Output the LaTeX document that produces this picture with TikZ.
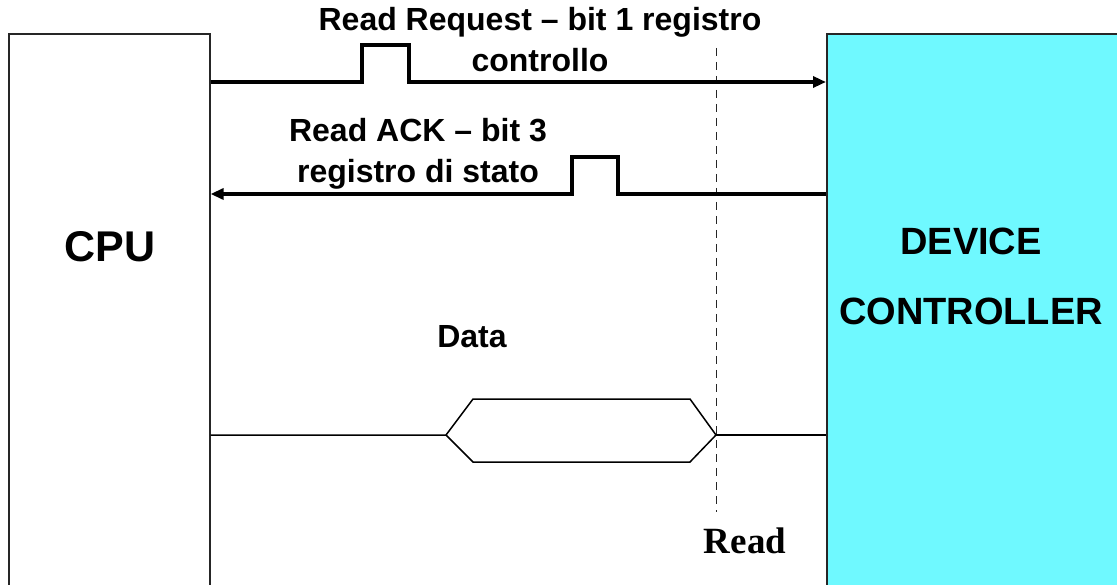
\documentclass[tikz,border=0pt]{standalone}
\usepackage{fontspec}
\setmainfont{Liberation Sans}
\newfontfamily\serifread{Liberation Serif}
\usepackage{xcolor}
\usetikzlibrary{arrows.meta}
\definecolor{devcyan}{RGB}{111,249,255}

\begin{document}
\begin{tikzpicture}[x=1pt,y=-1pt,>={Triangle[length=13pt,width=11pt]},line join=miter,
  unit/.style={draw=black!85,line width=1.6pt,inner sep=0pt,anchor=north west},
  sig/.style={line width=3.2pt},
  bus/.style={line width=1.5pt},
  lbl/.style={font=\fontsize{32}{41}\selectfont\bfseries,align=center,inner sep=0pt}]
\useasboundingbox (0,0) rectangle (1117,585);
% the two units
\node[unit,minimum width=201pt,minimum height=570pt] (cpu) at (8,33) {};
\node[unit,fill=devcyan,minimum width=310pt,minimum height=570pt] (dev) at (826,33) {};
\node[font=\fontsize{43}{43}\selectfont\bfseries] (cpulbl) at (110,247) {CPU};
\node[font=\fontsize{38}{70}\selectfont\bfseries,align=center] (devlbl) at (971,276) {DEVICE\\CONTROLLER};
% read strobe
\draw[black!85,line width=1pt,dash pattern=on 8pt off 6pt] (716,48) -- (716,512);
\node[font=\fontsize{37}{37}\selectfont\serifread\bfseries] (rd) at (745,541) {Read};
% read request
\draw[sig,->] (cpu.east |- 0,82) -- (362,82) -- (362,45) -- (409,45) -- (409,82) -- (dev.west |- 0,82);
\node[lbl] (req) at (540,40) {Read Request -- bit 1 registro\\controllo};
% read ack
\draw[sig,->] (dev.west |- 0,194) -- (618,194) -- (618,157) -- (572,157) -- (572,194) -- (cpu.east |- 0,194);
\node[lbl] (ack) at (418,154) {Read ACK -- bit 3\\registro di stato};
% data bus
\node[lbl] (data) at (472,337) {Data};
\draw[bus] (cpu.east |- 0,435) -- (446,435) -- (473,399) -- (690,399) -- (716,435) -- (690,462) -- (473,462) -- (446,435);
\draw[bus] (716,435) -- (dev.west |- 0,435);
\end{tikzpicture}
\end{document}
